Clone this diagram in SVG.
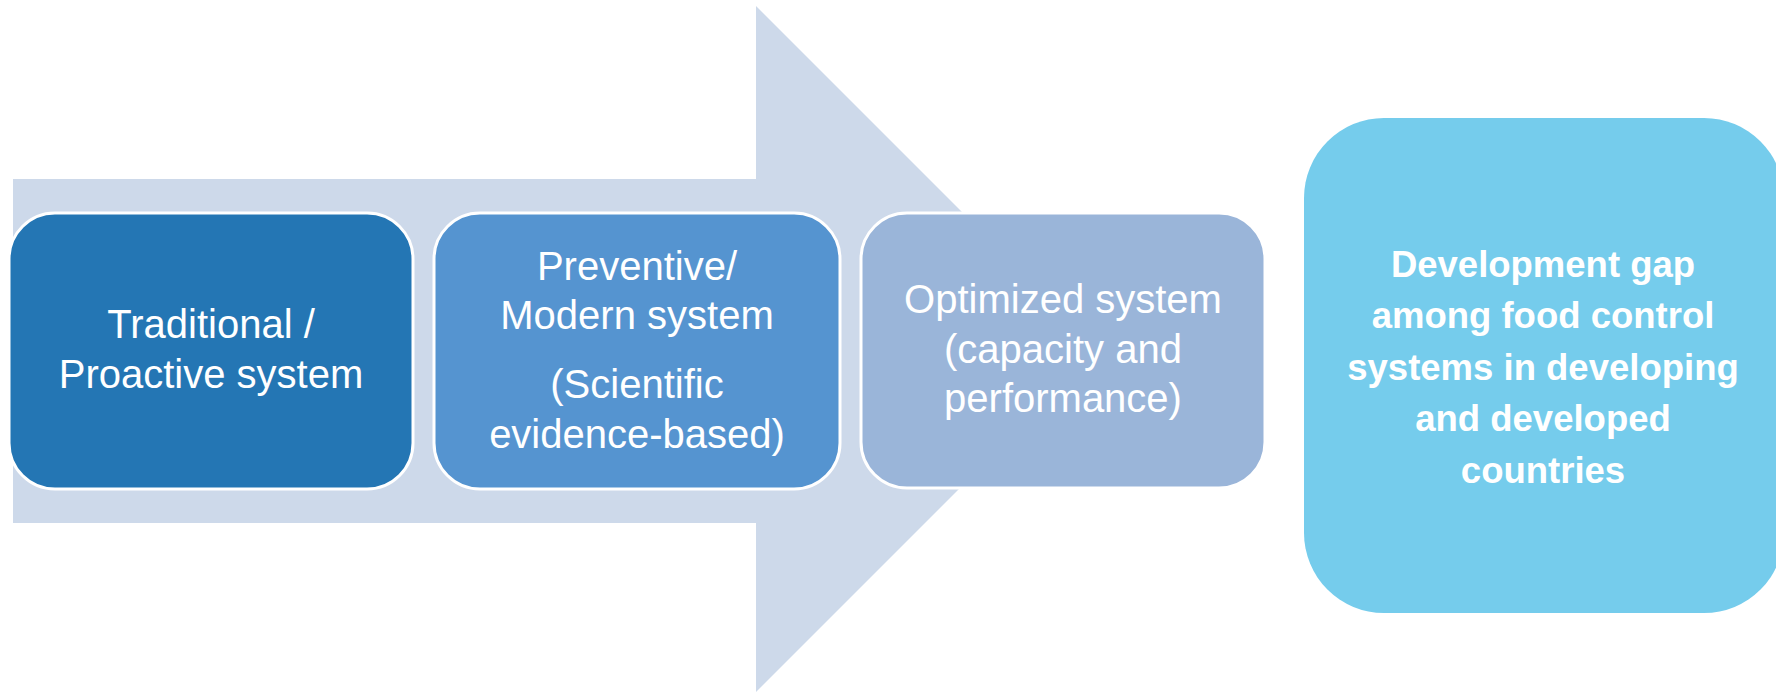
<svg xmlns="http://www.w3.org/2000/svg" width="1776" height="694" viewBox="0 0 1776 694">
<style>
.box{stroke:#ffffff;stroke-width:3}
.t{font-family:"Liberation Sans",Arial,sans-serif;font-size:40px;fill:#ffffff;text-anchor:middle}
.b{font-family:"Liberation Sans",Arial,sans-serif;font-size:36.5px;font-weight:bold;fill:#ffffff;text-anchor:middle}
</style>
<rect width="1776" height="694" fill="#ffffff"/>
<g id="connectors">
<polygon points="13,179 756,179 756,6 1099,349 756,692 756,523 13,523" fill="#CDD9EA"/>
</g>
<g id="node1">
<rect class="box" x="9" y="213" width="404" height="276" rx="46" fill="#2476B4"/>
<text class="t" x="211" y="338">Traditional /</text>
<text class="t" x="211" y="388">Proactive system</text>
</g>
<g id="node2">
<rect class="box" x="434" y="213" width="406" height="276" rx="46" fill="#5594D0"/>
<text class="t" x="637" y="280">Preventive/</text>
<text class="t" x="637" y="329">Modern system</text>
<text class="t" x="637" y="398">(Scientific</text>
<text class="t" x="637" y="448">evidence-based)</text>
</g>
<g id="node3">
<rect class="box" x="861" y="213" width="404" height="275" rx="46" fill="#9AB5D9"/>
<text class="t" x="1063" y="313">Optimized system</text>
<text class="t" x="1063" y="363">(capacity and</text>
<text class="t" x="1063" y="412">performance)</text>
</g>
<g id="node4">
<rect x="1304" y="118" width="480" height="495" rx="80" fill="#75CCEC"/>
<text class="b" x="1543" y="277">Development gap</text>
<text class="b" x="1543" y="328">among food control</text>
<text class="b" x="1543" y="380">systems in developing</text>
<text class="b" x="1543" y="431">and developed</text>
<text class="b" x="1543" y="483">countries</text>
</g>
</svg>
